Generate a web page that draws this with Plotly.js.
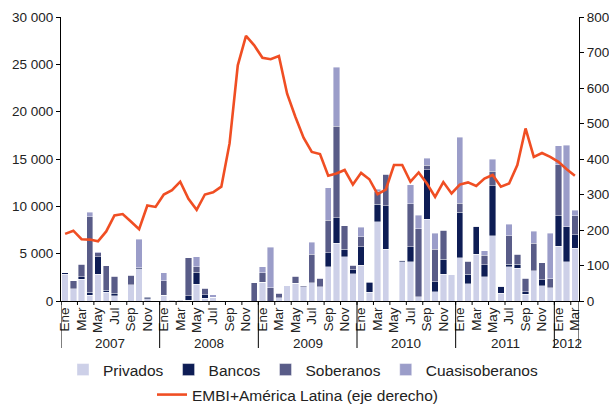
<!DOCTYPE html>
<html>
<head>
<meta charset="utf-8">
<script src="https://cdn.plot.ly/plotly-3.0.1.min.js"></script>
<style>html,body{margin:0;padding:0;background:#fff}#chart{width:609px;height:404px}</style>
</head>
<body>
<div id="chart"></div>
<script>
// Months: Jan 2007 .. Mar 2012
var monthNames = ["Ene","Feb","Mar","Abr","May","Jun","Jul","Ago","Sep","Oct","Nov","Dic"];
var years = ["2007","2008","2009","2010","2011","2012"];
var monthsPerYear = [12,12,12,12,12,3];

var privados = [2800,1300,2290,600,2850,950,560,0,1720,3410,240,0,
  600,0,0,105,1795,300,420,0,0,0,0,0,
  1960,0,370,1600,1870,1500,1940,1500,3640,6090,4680,2870,
  3790,920,8370,5460,0,4150,4170,440,8630,960,2850,2750,
  4550,1800,4960,2550,6900,800,3620,3450,700,3170,1620,1390,
  5770,4150,5580];
var bancos = [200,0,280,350,1830,210,250,0,0,110,150,0,
  0,0,0,460,1265,350,0,0,0,0,0,0,
  0,0,0,0,0,0,0,0,1460,2710,810,450,
  1940,1050,1870,4610,0,180,1560,0,5230,1060,1550,0,
  4800,1020,2960,1270,5260,780,250,420,280,0,640,0,
  3240,3700,1420];
var soberanos = [0,845,1330,7950,430,2540,1830,0,990,0,80,0,
  1550,80,80,3980,565,720,0,0,0,0,0,1950,
  1030,1400,440,0,770,100,3000,880,3450,9650,2460,460,
  1060,70,1380,3310,0,0,4540,7170,500,3470,3100,0,
  1000,1390,0,1000,1560,0,3030,1060,1415,2950,1790,980,
  5380,0,2010];
var cuasisoberanos = [0,0,0,470,100,0,0,0,0,2990,0,0,
  830,0,0,0,1025,0,220,0,0,0,0,0,
  610,4270,0,0,0,0,1260,0,3420,6230,0,0,
  1010,0,210,0,0,0,2020,1440,740,1660,0,0,
  6940,0,0,510,1250,0,1230,0,0,1270,0,4780,
  2010,8600,560];
var embi = [189,198,174,173,168,196,241,245,224,202,269,265,
  300,312,336,288,257,300,306,322,444,664,747,720,
  685,681,690,584,519,460,420,414,353,359,369,328,
  361,343,301,314,383,383,336,362,331,293,335,303,
  328,334,324,345,355,322,331,383,486,406,417,406,
  392,371,353];

var leftTicks = [0,5000,10000,15000,20000,25000,30000];
var leftTickText = ["0","5 000","10 000","15 000","20 000","25 000","30 000"];
var rightTicks = [0,100,200,300,400,500,600,700,800];

// build x index and labels
var xIdx = [], tickVals = [], tickText = [];
var n = 0;
for (var y = 0; y < years.length; y++) {
  for (var m = 0; m < monthsPerYear[y]; m++) {
    xIdx.push(n);
    if (m % 2 === 0) { tickVals.push(n); tickText.push(monthNames[m]); }
    n++;
  }
}

var colors = {priv:"#cdd0e8", banc:"#0e1d55", sob:"#595c88", cuasi:"#9b9dc9", line:"#f04e23"};
var barLine = {color:"#ffffff", width:0.4};

var traces = [
  {type:"bar", name:"Privados", x:xIdx, y:privados, marker:{color:colors.priv, line:barLine}, legend:"legend"},
  {type:"bar", name:"Bancos", x:xIdx, y:bancos, marker:{color:colors.banc, line:barLine}, legend:"legend"},
  {type:"bar", name:"Soberanos", x:xIdx, y:soberanos, marker:{color:colors.sob, line:barLine}, legend:"legend"},
  {type:"bar", name:"Cuasisoberanos", x:xIdx, y:cuasisoberanos, marker:{color:colors.cuasi, line:barLine}, legend:"legend"},
  {type:"scatter", mode:"lines", name:"EMBI+América Latina (eje derecho)", x:xIdx, y:embi,
   yaxis:"y2", line:{color:colors.line, width:2.6}, legend:"legend2"}
];

// axis decorations: small ticks every two months, year dividers, year labels
var shapes = [], annotations = [];
var plotH = 404 - 17 - 103;
for (var k = 0; k <= n; k += 2) {
  shapes.push({type:"line", xref:"x", yref:"paper", x0:k-0.5, x1:k-0.5, y0:0, y1:-4/plotH,
               line:{color:"#000", width:1}});
}
var start = 0;
for (var y2 = 0; y2 < years.length; y2++) {
  shapes.push({type:"line", xref:"x", yref:"paper", x0:start-0.5, x1:start-0.5, y0:0, y1:-47/plotH,
               line:{color:"#000", width:1}});
  annotations.push({xref:"x", yref:"paper", x:start - 0.5 + monthsPerYear[y2]/2, y:-42/plotH,
                    text:years[y2], showarrow:false, yanchor:"middle", xanchor:"center",
                    font:{size:13.5, color:"#222"}});
  start += monthsPerYear[y2];
}
shapes.push({type:"line", xref:"x", yref:"paper", x0:n-0.5, x1:n-0.5, y0:0, y1:-47/plotH,
             line:{color:"#000", width:1}});

var layout = {
  width:609, height:404,
  margin:{l:61, r:30, t:17, b:103, pad:0},
  paper_bgcolor:"#fff", plot_bgcolor:"#fff",
  font:{family:"Liberation Sans, Arial, sans-serif", size:13, color:"#222"},
  barmode:"stack", bargap:0.22,
  showlegend:true,
  xaxis:{range:[-0.5, n-0.5], tickvals:tickVals, ticktext:tickText, tickangle:-90,
         ticks:"", showline:true, linecolor:"#000", linewidth:1, showgrid:false, zeroline:false,
         tickfont:{size:13.5}, fixedrange:true},
  yaxis:{range:[0,30000], tickvals:leftTicks, ticktext:leftTickText, ticks:"outside", ticklen:4,
         tickcolor:"#000", showline:true, linecolor:"#000", linewidth:1, showgrid:false, zeroline:false,
         tickfont:{size:13.5}},
  yaxis2:{range:[0,800], tickvals:rightTicks, overlaying:"y", side:"right", ticks:"outside", ticklen:4,
          tickcolor:"#000", showline:true, linecolor:"#000", linewidth:1, showgrid:false, zeroline:false,
          tickfont:{size:13.5}},
  legend:{orientation:"h", xref:"container", yref:"container", x:63/609, xanchor:"left",
          y:(404-370)/404, yanchor:"middle", font:{size:15.5}, traceorder:"normal",
          bgcolor:"rgba(0,0,0,0)"},
  legend2:{orientation:"h", xref:"container", yref:"container", x:152/609, xanchor:"left",
          y:(404-395)/404, yanchor:"middle", font:{size:15.5}, bgcolor:"rgba(0,0,0,0)"},
  shapes:shapes,
  annotations:annotations
};

Plotly.newPlot("chart", traces, layout, {displayModeBar:false, staticPlot:true});
</script>
</body>
</html>
